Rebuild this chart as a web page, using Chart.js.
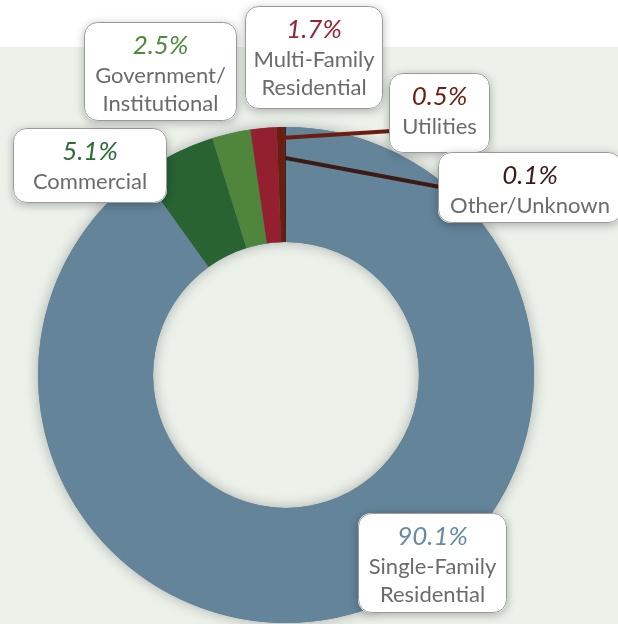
<!DOCTYPE html>
<html>
<head>
<meta charset="utf-8">
<script src="https://cdn.jsdelivr.net/npm/chart.js@4/dist/chart.umd.min.js"></script>
<style>
  html, body { margin: 0; padding: 0; background: #fff; }
  canvas { display: block; }
</style>
</head>
<body>
<canvas id="chart1" width="618" height="624"></canvas>
<script>
// land use share, clockwise from 12 o'clock
const categories = [
  ['Single-Family', 'Residential'],
  ['Commercial'],
  ['Government/', 'Institutional'],
  ['Multi-Family', 'Residential'],
  ['Utilities'],
  ['Other/Unknown']
];
const shares = [90.1, 5.1, 2.5, 1.7, 0.5, 0.1];
const sliceColors = ['#64849a', '#286331', '#4f863b', '#93202e', '#6b1e10', '#3e1a14'];
const pctColors = ['#6a8aa2', '#2b6b35', '#4f8a3d', '#9a2334', '#6b1e10', '#3a1a16'];

// callout boxes (x, y, w, h) and which ones get a leader line
const boxes = [
  [358, 513, 149, 100],
  [13, 128, 154, 75],
  [84, 22, 153, 99],
  [245, 6, 138, 103],
  [389, 73, 101, 80],
  [438, 152, 184, 71]
];
const leaders = { 4: { r: 237, to: [392, 131] }, 5: { r: 217, to: [440, 187] } };

function roundRect(ctx, x, y, w, h, r) {
  ctx.beginPath();
  ctx.moveTo(x + r, y);
  ctx.arcTo(x + w, y, x + w, y + h, r);
  ctx.arcTo(x + w, y + h, x, y + h, r);
  ctx.arcTo(x, y + h, x, y, r);
  ctx.arcTo(x, y, x + w, y, r);
  ctx.closePath();
}

const backdrop = {
  id: 'backdrop',
  beforeDraw(chart) {
    const ctx = chart.ctx;
    ctx.save();
    ctx.fillStyle = '#ffffff';
    ctx.fillRect(0, 0, chart.width, chart.height);
    ctx.fillStyle = '#ecf1ea';
    ctx.fillRect(0, 47, chart.width, chart.height - 47);
    ctx.restore();
  },
  beforeDatasetsDraw(chart) {
    // soft shadow around the ring
    const arc = chart.getDatasetMeta(0).data[0];
    const ctx = chart.ctx;
    ctx.save();
    ctx.shadowColor = 'rgba(0,0,0,0.28)';
    ctx.shadowBlur = 14;
    ctx.fillStyle = sliceColors[0];
    ctx.beginPath();
    ctx.arc(arc.x, arc.y, arc.outerRadius, 0, Math.PI * 2);
    ctx.arc(arc.x, arc.y, arc.innerRadius, 0, Math.PI * 2, true);
    ctx.fill();
    ctx.restore();
  }
};

const callouts = {
  id: 'callouts',
  afterDatasetsDraw(chart) {
    const ctx = chart.ctx;
    const meta = chart.getDatasetMeta(0);
    ctx.save();
    // leader lines
    Object.keys(leaders).forEach(k => {
      const i = +k;
      const a = meta.data[i];
      const mid = (a.startAngle + a.endAngle) / 2;
      const r = leaders[k].r;
      ctx.strokeStyle = sliceColors[i];
      ctx.lineWidth = 4;
      ctx.beginPath();
      ctx.moveTo(a.x + Math.cos(mid) * r, a.y + Math.sin(mid) * r);
      ctx.lineTo(leaders[k].to[0], leaders[k].to[1]);
      ctx.stroke();
    });
    // boxes
    boxes.forEach((b, i) => {
      const [x, y, w, h] = b;
      ctx.save();
      ctx.shadowColor = 'rgba(0,0,0,0.28)';
      ctx.shadowBlur = 10;
      ctx.shadowOffsetY = 2;
      roundRect(ctx, x, y, w, h, 13);
      ctx.fillStyle = '#ffffff';
      ctx.fill();
      ctx.restore();
      roundRect(ctx, x + 0.5, y + 0.5, w - 1, h - 1, 13);
      ctx.strokeStyle = '#9a9a9a';
      ctx.lineWidth = 1;
      ctx.stroke();

      const cx = x + w / 2;
      ctx.textAlign = 'center';
      ctx.textBaseline = 'middle';
      ctx.fillStyle = pctColors[i];
      ctx.font = 'italic 26px Lato, "Open Sans", sans-serif';
      ctx.fillText(shares[i].toFixed(1) + '%', cx, y + 24);
      ctx.fillStyle = '#6b6b6b';
      ctx.font = '22px Lato, "Open Sans", sans-serif';
      categories[i].forEach((line, j) => {
        ctx.fillText(line, cx, y + 54 + j * 28);
      });
    });
    ctx.restore();
  }
};

new Chart(document.getElementById('chart1'), {
  type: 'doughnut',
  data: {
    labels: categories,
    datasets: [{
      data: shares,
      backgroundColor: sliceColors,
      borderWidth: 0
    }]
  },
  options: {
    responsive: false,
    animation: false,
    cutout: '53.6%',
    rotation: 0,
    layout: { padding: { left: 38, right: 84, top: 127, bottom: 1 } },
    plugins: {
      legend: { display: false },
      tooltip: { enabled: false }
    }
  },
  plugins: [backdrop, callouts]
});
</script>
</body>
</html>
